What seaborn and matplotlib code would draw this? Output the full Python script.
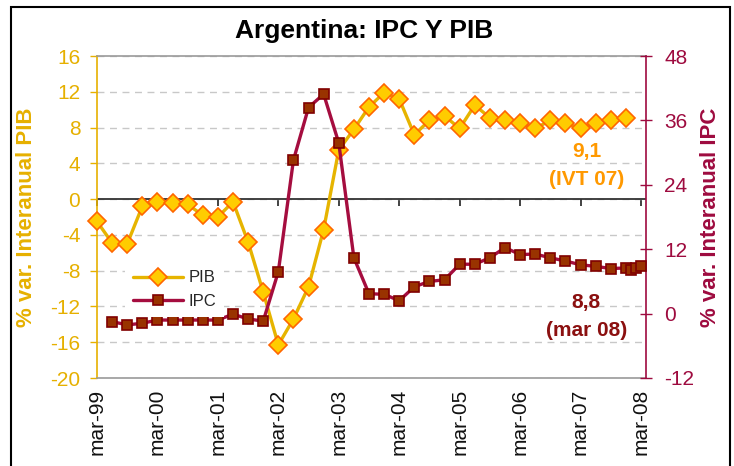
import numpy as np
import pandas as pd
import matplotlib.pyplot as plt
import seaborn as sns
from matplotlib.patches import Rectangle

# eje x en meses desde mar-99
MESES_PIB = np.arange(0, 106, 3)  # trimestres mar-99 ... dic-07
PIB = [-2.5, -4.9, -5.0, -0.8, -0.3, -0.4, -0.6, -1.8, -2.0, -0.3,
       -4.8, -10.4, -16.3, -13.4, -9.8, -3.4, 5.5, 7.8, 10.3, 11.9,
       11.2, 7.2, 8.8, 9.3, 7.9, 10.5, 9.1, 8.9, 8.5, 7.9,
       8.8, 8.5, 7.9, 8.5, 8.8, 9.1]
MESES_IPC = list(range(3, 106, 3)) + [106, 107, 108]  # jun-99 ... dic-07, ene-08 ... mar-08
IPC = [-1.5, -2.1, -1.8, -1.2, -1.2, -1.2, -1.2, -1.2, -0.1, -1.0,
       -1.4, 7.8, 28.6, 38.4, 40.9, 31.8, 10.4, 3.7, 3.6, 2.4,
       5.0, 6.0, 6.3, 9.2, 9.2, 10.4, 12.3, 11.0, 11.1, 10.4,
       9.8, 9.1, 8.8, 8.4, 8.5, 8.2, 8.5, 8.8]
TICKS_X = list(range(0, 109, 12))
ETIQUETAS_X = ['mar-99', 'mar-00', 'mar-01', 'mar-02', 'mar-03',
               'mar-04', 'mar-05', 'mar-06', 'mar-07', 'mar-08']
TICKS_PIB = list(range(-20, 17, 4))
TICKS_IPC = list(range(-12, 49, 12))

ORO = '#E6B000'
CARMIN = '#9E0B3F'

sns.set_theme(style='white')
plt.rcParams['font.family'] = ['Liberation Sans', 'DejaVu Sans']
plt.rcParams['axes.unicode_minus'] = False

df_pib = pd.DataFrame({'mes': MESES_PIB, 'valor': PIB})
df_ipc = pd.DataFrame({'mes': MESES_IPC, 'valor': IPC})

fig = plt.figure(figsize=(7.34, 4.66), dpi=100)
ax = fig.add_axes([97 / 734, 1 - 378 / 466, 549 / 734, 322 / 466])
ax2 = ax.twinx()

sns.lineplot(data=df_pib, x='mes', y='valor', ax=ax, sort=False, color='#E6B400',
             linewidth=2.4, marker='D', markersize=9, markerfacecolor='#FFCC00',
             markeredgecolor='#FF6600', markeredgewidth=1.2, clip_on=False, zorder=3)
sns.lineplot(data=df_ipc, x='mes', y='valor', ax=ax2, sort=False, color='#A50D3F',
             linewidth=2.4, marker='s', markersize=7.5, markerfacecolor='#993300',
             markeredgecolor='#800000', markeredgewidth=1.2, clip_on=False, zorder=3)

ax.set_xlim(0, 109)
ax.set_ylim(-20, 16)
ax2.set_ylim(-12, 48)

# ejes y
ax.set_yticks(TICKS_PIB)
ax.tick_params(axis='y', colors=ORO, labelsize=15, length=5, width=1, direction='out', pad=7, left=True)
ax2.set_yticks(TICKS_IPC)
ax2.tick_params(axis='y', colors=CARMIN, labelsize=15, length=8, width=1, direction='inout', pad=9, right=True)
ax.grid(axis='y', color='#C8C8C8', linestyle=(0, (5, 4)), linewidth=1)
ax.grid(axis='x', visible=False)
ax2.grid(False)
ax.axhline(0, color='#333333', linewidth=1.3, zorder=2)

ax.set_ylabel('% var. Interanual PIB', color=ORO, fontsize=16, fontweight='bold')
ax.yaxis.set_label_coords(-0.109, 0.5)
ax2.set_ylabel('% var. Interanual IPC', color=CARMIN, fontsize=16, fontweight='bold')
ax2.yaxis.set_label_coords(1.098, 0.5)

# eje x: etiquetas abajo, marcas sobre la linea del cero
ax.set_xticks(TICKS_X)
ax.set_xticklabels(ETIQUETAS_X, rotation=90, fontsize=15, color='#111111')
ax.tick_params(axis='x', length=0, pad=8, bottom=True)
ax.set_xlabel('')
ax2.set_xlabel('')

cero = ax.secondary_xaxis(20 / 36)
cero.set_alignment('bottom')
cero.set_xticks(TICKS_X)
cero.set_xticklabels([])
cero.tick_params(axis='x', direction='out', length=5, width=1.2, color='#222222', bottom=True)
cero.spines['bottom'].set_visible(False)

for lado, spine in ax.spines.items():
    spine.set_linewidth(1.2)
    spine.set_color('#9A9A9A')
ax.spines['left'].set_color(ORO)
ax.spines['right'].set_visible(False)
for lado in ['left', 'top', 'bottom']:
    ax2.spines[lado].set_visible(False)
ax2.spines['right'].set_color(CARMIN)
ax2.spines['right'].set_linewidth(1.2)

# leyenda
lineas = [ax.get_lines()[0], ax2.get_lines()[0]]
if ax.get_legend():
    ax.get_legend().remove()
ley = ax2.legend(lineas, ['PIB', 'IPC'], loc='upper left', bbox_to_anchor=(0.051, 0.36),
                 borderaxespad=0, borderpad=0.5, frameon=True, fancybox=False,
                 facecolor='white', edgecolor='none', framealpha=1, fontsize=12,
                 handlelength=3, handletextpad=0.3, labelspacing=0.5)

# anotaciones
ax2.text(0.892, 0.702, '9,1', transform=ax2.transAxes, ha='center', va='center',
         fontsize=15, fontweight='bold', color='#FF9900')
ax2.text(0.892, 0.615, '(IVT 07)', transform=ax2.transAxes, ha='center', va='center',
         fontsize=15, fontweight='bold', color='#FF9900')
ax2.text(0.891, 0.233, '8,8', transform=ax2.transAxes, ha='center', va='center',
         fontsize=15, fontweight='bold', color='#8B1010')
ax2.text(0.891, 0.149, '(mar 08)', transform=ax2.transAxes, ha='center', va='center',
         fontsize=15, fontweight='bold', color='#8B1010')

fig.text(364 / 734, 1 - 31 / 466, 'Argentina: IPC Y PIB', ha='center', va='center',
         fontsize=19, fontweight='bold', color='black')
fig.add_artist(Rectangle((11 / 734, -0.1), 719 / 734, 1.085, transform=fig.transFigure,
                         fill=False, edgecolor='black', linewidth=1.5))

fig.savefig('out.png', dpi=100)
